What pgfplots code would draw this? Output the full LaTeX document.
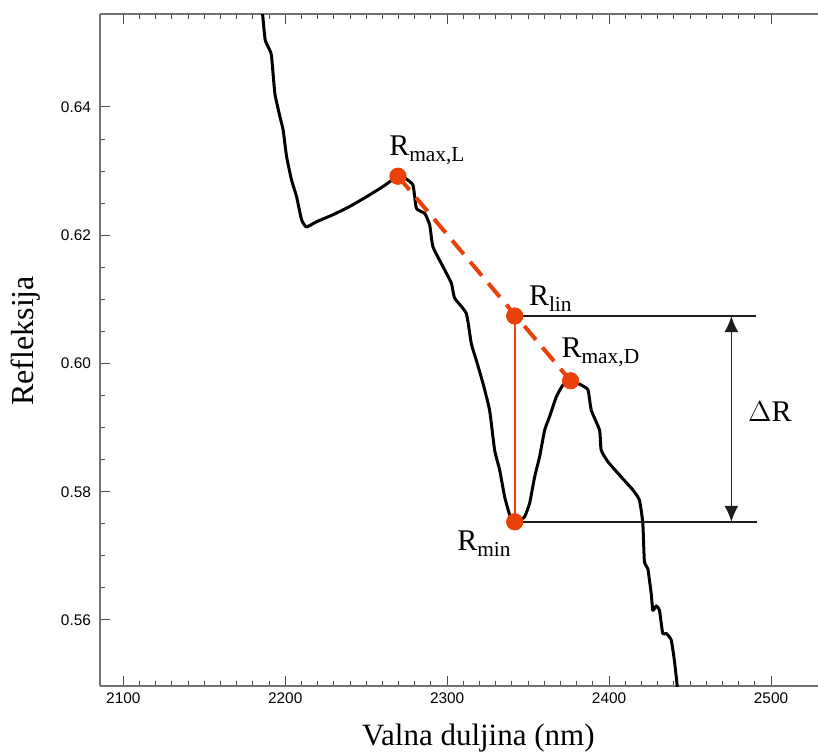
\documentclass[border=0pt]{standalone}
\usepackage{pgfplots}
\pgfplotsset{compat=1.18}
\usepackage{fontspec}
\setmainfont{Liberation Serif}
\newfontfamily\tickfont{Liberation Sans}
\usetikzlibrary{arrows.meta}
\definecolor{ored}{RGB}{234,64,10}
\definecolor{dk}{RGB}{30,30,30}
\newcommand{\Rlab}[1]{{\fontsize{15}{18}\selectfont R}\raisebox{-3pt}{\fontsize{10.7}{13}\selectfont #1}}

\pgfplotstableread{
x y
2185.5 0.6560
2186.0 0.6545
2187.6 0.6505
2189.8 0.6492
2191.5 0.6480
2193.6 0.6421
2196.7 0.6385
2198.7 0.6364
2200.8 0.6323
2203.9 0.6286
2207.0 0.6260
2210.1 0.6224
2213.1 0.6213
2219.3 0.6221
2229.5 0.6232
2239.9 0.6245
2250.2 0.6260
2260.4 0.6276
2269.6 0.6292
2274.5 0.6288
2278.9 0.6278
2281.0 0.6242
2286.1 0.6234
2289.2 0.6216
2291.2 0.6182
2297.4 0.6151
2302.6 0.6125
2304.6 0.6102
2311.8 0.6078
2314.9 0.6031
2318.0 0.6005
2322.1 0.5969
2326.2 0.5927
2329.3 0.5865
2332.4 0.5834
2335.5 0.5792
2338.6 0.5764
2341.7 0.5753
2344.5 0.5755
2347.8 0.5761
2350.9 0.5782
2354.0 0.5823
2357.1 0.5855
2360.2 0.5896
2363.2 0.5917
2367.4 0.5948
2371.4 0.5966
2376.2 0.5973
2381.5 0.5968
2386.9 0.5959
2389.0 0.5927
2394.1 0.5896
2395.1 0.5865
2399.2 0.5847
2406.4 0.5826
2414.6 0.5803
2418.7 0.5787
2420.8 0.5751
2421.8 0.5691
2423.9 0.5680
2426.0 0.5641
2427.0 0.5615
2429.1 0.5622
2431.1 0.5615
2433.1 0.5579
2435.2 0.5579
2438.3 0.5569
2440.3 0.5537
2442.0 0.5498
2442.3 0.5480
}\spectrum

\begin{document}
\begin{tikzpicture}
\begin{axis}[
  scale only axis, width=359pt, height=336pt,
  xmin=2085.6, xmax=2529, ymin=0.5497, ymax=0.6545,
  axis x line*=box, axis y line*=left,
  xtick={2100,2200,2300,2400,2500},
  ytick={0.56,0.58,0.60,0.62,0.64},
  minor x tick num=9, minor y tick num=3,
  xtick pos=both, ytick pos=left,
  xticklabel pos=lower, yticklabel pos=left,
  tick align=inside,
  major tick length=5pt, minor tick length=2.5pt,
  axis line style={black!55, line width=0.6pt},
  every tick/.style={black!70, line width=0.5pt},
  /pgf/number format/assume math mode=true,
  tick label style={font=\tickfont\fontsize{7.7}{9}\selectfont},
  yticklabel style={/pgf/number format/fixed, /pgf/number format/fixed zerofill, /pgf/number format/precision=2, xshift=-1pt},
  xticklabel style={/pgf/number format/set thousands separator={}},
  xlabel={Valna duljina (nm)},
  xlabel style={at={(axis description cs:0.527,-0.0878)}, anchor=base, font=\fontsize{15.5}{18}\selectfont},
  ylabel={Refleksija},
  ylabel style={at={(axis description cs:-0.0929,0.5137)}, anchor=base, rotate=0, font=\fontsize{16}{19}\selectfont},
]
\addplot[black, line width=1.5pt, line join=round, smooth, tension=0.3, mark=none] table[x=x,y=y]{\spectrum};
% vertical orange line Rlin - Rmin
\addplot[ored, line width=0.8pt, mark=none] coordinates {(2341.7,0.6074) (2341.7,0.5753)};
% dashed continuum line
\addplot[ored, line width=2pt, dash pattern=on 9pt off 5pt, mark=none] coordinates {(2269.6,0.6292) (2376.2,0.5973)};
% dots
\addplot[only marks, mark=*, mark size=4.1pt, ored, mark options={draw=ored, fill=ored}] coordinates {
  (2269.6,0.6292) (2341.7,0.6074) (2376.2,0.5973) (2341.7,0.5753)};
% horizontal reference lines
\addplot[dk, line width=0.8pt, mark=none] coordinates {(2341.7,0.6074) (2490.5,0.6074)};
\addplot[dk, line width=0.8pt, mark=none] coordinates {(2341.7,0.5753) (2491.5,0.5753)};
% delta R double arrow
\addplot[dk, line width=0.8pt, mark=none, {Latex[length=8pt,width=7pt]}-{Latex[length=8pt,width=7pt]}] coordinates {(2475.5,0.6074) (2475.5,0.5753)};
% labels
\node[anchor=base west, inner sep=0pt] at (axis cs:2264,0.6325) {\Rlab{max,L}};
\node[anchor=base west, inner sep=0pt] at (axis cs:2350.3,0.6091) {\Rlab{lin}};
\node[anchor=base west, inner sep=0pt] at (axis cs:2370.4,0.6010) {\Rlab{max,D}};
\node[anchor=base west, inner sep=0pt] at (axis cs:2306.0,0.5708) {\Rlab{min}};
\node[anchor=base west, inner sep=0pt] at (axis cs:2485.6,0.5910) {\fontsize{15}{18}\selectfont $\Delta$R};
\end{axis}
\pgfresetboundingbox
\path[use as bounding box] ([xshift=-50pt,yshift=-32.5pt]current axis.south west) rectangle ([yshift=7pt]current axis.north east);
\end{tikzpicture}
\end{document}
